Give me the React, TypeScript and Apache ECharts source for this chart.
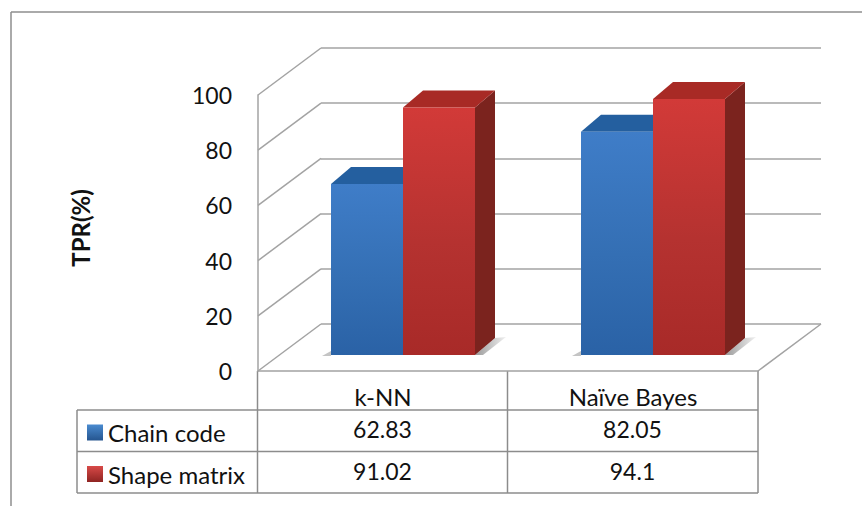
import React, { useEffect, useRef } from "react";
import * as echarts from "echarts";

const categories = ["k-NN", "Naïve Bayes"];
const chainCode = [62.83, 82.05];
const shapeMatrix = [91.02, 94.1];
const tableText = [["62.83", "82.05"], ["91.02", "94.1"]];
const yTicks = [0, 20, 40, 60, 80, 100];
const seriesNames = ["Chain code", "Shape matrix"];

const FONT = "Lato";
const GRID = "#a3a3a3";
const TABLE = "#8c8c8c";
const TEXT = "#111111";
const DX = 20;
const DY = -17;

const grad = (stops: [number, string][], h = false) =>
  new echarts.graphic.LinearGradient(0, 0, h ? 1 : 0, h ? 0 : 1, stops.map(([offset, color]) => ({ offset, color })));

const palettes = [
  {
    front: () => grad([[0, "#3f7dc8"], [0.55, "#346fb4"], [1, "#2a62a6"]]),
    top: "#245f9f",
    side: "#1d4c80",
    legend: () => grad([[0, "#4a8bd0"], [1, "#25558f"]]),
  },
  {
    front: () => grad([[0, "#d23a38"], [0.55, "#b53230"], [1, "#a82a28"]]),
    top: "#a82a25",
    side: "#7b231e",
    legend: () => grad([[0, "#d84a48"], [1, "#8f2422"]]),
  },
];

const barRender = (idx: number) => (params: any, api: any) => {
  const cat = api.value(0);
  const val = api.value(1);
  const top = api.coord([cat, val]);
  const base = api.coord([cat, 0]);
  const w = api.size([1, 0])[0] * 0.288;
  const x0 = top[0] - w + idx * w;
  const x1 = x0 + w;
  const y0 = top[1];
  const y1 = base[1];
  const pal = palettes[idx];
  const children: any[] = [];
  if (idx === 1) {
    children.push({
      type: "polygon",
      shape: { points: [[x1, y1], [x1 + DX, y1 + DY], [x1 + 31, y1 + DY - 1], [x1 + 8, y1]] },
      style: { fill: grad([[0, "#9a9a9a"], [1, "#f0f0f0"]], true) },
    });
  } else {
    children.push({
      type: "polygon",
      shape: { points: [[x0, y1 + 1], [x0, y1 - 4], [x0 - 9, y1 + 1]] },
      style: { fill: "#c4c4c4" },
    });
  }
  children.push(
    { type: "polygon", shape: { points: [[x1, y0], [x1 + DX, y0 + DY], [x1 + DX, y1 + DY], [x1, y1]] }, style: { fill: pal.side } },
    { type: "polygon", shape: { points: [[x0, y0], [x0 + DX, y0 + DY], [x1 + DX, y0 + DY], [x1, y0]] }, style: { fill: pal.top } },
    { type: "rect", shape: { x: x0, y: y0, width: w, height: y1 - y0 }, style: { fill: pal.front() } }
  );
  return { type: "group", children };
};

const diagRender = (params: any, api: any) => {
  const p = api.coord([0, api.value(0)]);
  const x = params.coordSys.x;
  return { type: "line", shape: { x1: x, y1: p[1], x2: x + 63, y2: p[1] - 47 }, style: { stroke: GRID, lineWidth: 1.5 } };
};

const floorRender = (params: any, api: any) => {
  const c = params.coordSys;
  const y = api.coord([0, api.value(0)])[1];
  const x = c.x + c.width;
  return { type: "line", shape: { x1: x, y1: y, x2: x + 63, y2: y - 47 }, style: { stroke: GRID, lineWidth: 1.5 } };
};

function buildTable() {
  const L = 77, A = 257.5, B = 507.5, C = 758;
  const Y0 = 371, Y1 = 410, Y2 = 451.5, Y3 = 493;
  const line = (x1: number, y1: number, x2: number, y2: number, stroke = TABLE, lineWidth = 1.5) => ({
    type: "line",
    silent: true,
    shape: { x1, y1, x2, y2 },
    style: { stroke, lineWidth },
  });
  const text = (x: number, y: number, s: string) => ({
    type: "text",
    silent: true,
    x,
    y,
    style: { text: s, fill: TEXT, font: `23px ${FONT}`, align: "center", verticalAlign: "middle" },
  });
  const els: any[] = [
    line(11, 12, 862, 12, "#8e8e8e", 1.5),
    line(11, 12, 11, 506, "#8e8e8e", 1.5),
    line(L, Y1, C, Y1),
    line(L, Y2, C, Y2),
    line(L, Y3, C, Y3),
    line(L, Y1, L, Y3),
    line(A, Y0, A, Y3),
    line(B, Y0, B, Y3),
    line(C, Y0, C, Y3),
  ];
  tableText.forEach((row, r) =>
    row.forEach((t, c) => els.push(text(A + 250 * (c + 0.5), r === 0 ? 429 : 471, t)))
  );
  return els;
}

export default function App() {
  const ref = useRef<HTMLDivElement>(null);
  useEffect(() => {
    const chart = echarts.init(ref.current!, undefined, { renderer: "svg" });
    chart.setOption({
      animation: false,
      backgroundColor: "#ffffff",
      textStyle: { fontFamily: FONT },
      grid: [
        { left: 258, top: 95, width: 500, height: 276 },
        { left: 321, top: 48, width: 500, height: 276 },
        { left: 278, top: 83, width: 500, height: 272 },
      ],
      xAxis: [
        {
          gridIndex: 0,
          type: "category",
          data: categories,
          axisTick: { show: false },
          axisLine: { show: true, lineStyle: { color: GRID, width: 1.5 } },
          axisLabel: { color: TEXT, fontSize: 24, fontFamily: FONT, margin: 13 },
        },
        { gridIndex: 1, type: "category", data: categories, show: false },
        { gridIndex: 2, type: "category", data: categories, show: false },
      ],
      yAxis: [
        {
          gridIndex: 0,
          type: "value",
          min: 0,
          max: 100,
          interval: 20,
          name: "TPR(%)",
          nameLocation: "middle",
          nameGap: 166,
          nameTextStyle: { color: TEXT, fontSize: 24, fontWeight: "bold", fontFamily: FONT, padding: [0, 0, 0, 10] },
          axisLine: { show: true, lineStyle: { color: GRID, width: 1.5 } },
          axisTick: { show: false },
          splitLine: { show: false },
          axisLabel: { color: TEXT, fontSize: 23, fontFamily: FONT, margin: 26 },
        },
        {
          gridIndex: 1,
          type: "value",
          min: 0,
          max: 100,
          interval: 20,
          axisLine: { show: false },
          axisTick: { show: false },
          axisLabel: { show: false },
          splitLine: { show: true, lineStyle: { color: GRID, width: 1.5 } },
        },
        { gridIndex: 2, type: "value", min: 0, max: 100, show: false, splitLine: { show: false } },
      ],
      legend: {
        orient: "vertical",
        left: 82,
        top: 413,
        itemWidth: 16,
        itemHeight: 16,
        itemGap: 12.5,
        icon: "rect",
        data: seriesNames,
        textStyle: { color: TEXT, fontSize: 24, fontFamily: FONT, lineHeight: 24, padding: [0, 0, 5, 0] },
      },
      series: [
        {
          type: "custom",
          name: "walls",
          xAxisIndex: 0,
          yAxisIndex: 0,
          silent: true,
          z: 1,
          data: yTicks.map((v) => [v]),
          encode: { y: 0 },
          renderItem: diagRender,
        },
        {
          type: "custom",
          name: "floor",
          xAxisIndex: 0,
          yAxisIndex: 0,
          silent: true,
          z: 1,
          data: [[0]],
          encode: { y: 0 },
          renderItem: floorRender,
        },
        ...seriesNames.map((name, i) => ({
          type: "custom",
          name,
          xAxisIndex: 2,
          yAxisIndex: 2,
          z: 3,
          itemStyle: { color: palettes[i].legend() },
          data: (i === 0 ? chainCode : shapeMatrix).map((v, c) => [c, v]),
          encode: { x: 0, y: 1 },
          renderItem: barRender(i),
        })),
      ],
      graphic: buildTable(),
    });
    return () => chart.dispose();
  }, []);
  return <div ref={ref} style={{ position: "fixed", left: 0, top: 0, width: 862, height: 506 }} />;
}
